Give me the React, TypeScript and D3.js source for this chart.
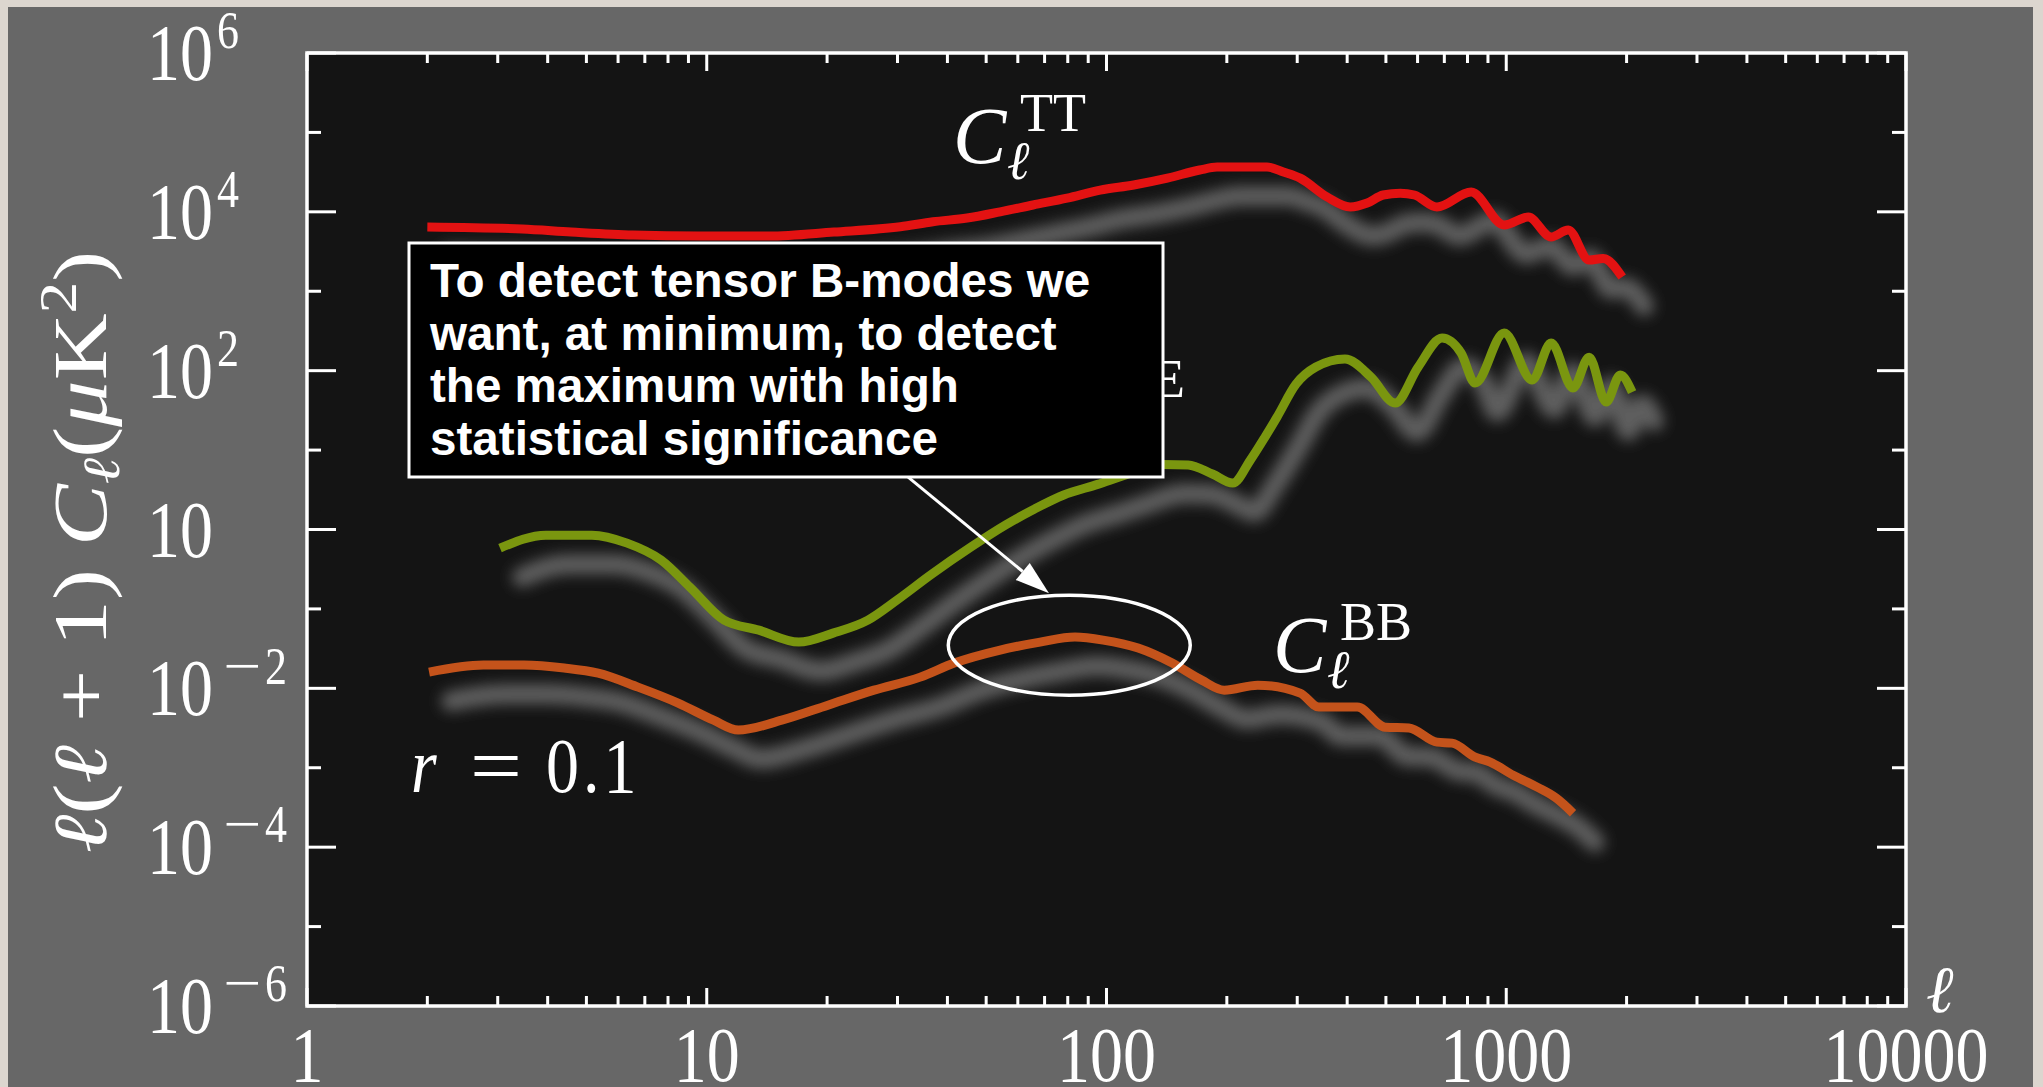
import React, { useEffect } from 'react';
import * as d3 from 'd3';

const W = 2043;
const H = 1087;

// multipole and l(l+1)C_l values
const ttEll = [2, 3.45, 4.58, 6.54, 9.62, 14.3, 20.8, 30.5, 36.8, 44.8, 54.2, 65.5, 79.7, 96.4, 117, 142, 171, 189, 252, 277, 305, 356, 407, 449, 492, 543, 589, 671, 817, 988, 1135, 1295, 1429, 1612, 1747, 1950];
const ttVal = [6440, 6070, 5570, 5100, 4960, 4960, 5570, 6490, 7500, 8350, 10000, 12200, 14900, 18800, 21800, 26600, 33600, 36600, 36600, 31700, 26600, 15400, 11500, 12900, 16300, 17200, 16300, 11500, 17750, 6820, 8600, 4820, 5900, 2470, 2590, 1510];

const eeEll = [3.04, 3.96, 5.16, 6.32, 7.69, 9.08, 11.05, 13.5, 17.0, 20.7, 25.3, 29.9, 36.4, 45.8, 56.1, 65.9, 77.9, 95, 112, 138, 160, 184, 207, 229, 250, 267, 298, 334, 395, 459, 527, 602, 691, 771, 836, 988, 1161, 1295, 1469, 1612, 1778, 1928, 2065];
const eeVal = [0.583, 0.849, 0.849, 0.674, 0.412, 0.188, 0.0723, 0.054, 0.0382, 0.0496, 0.0723, 0.129, 0.27, 0.6, 1.15, 1.8, 2.7, 3.7, 4.9, 6.6, 6.5, 5.0, 3.84, 7.48, 15, 26, 67.8, 111, 140, 83, 39.1, 111, 258, 167, 69.8, 298, 76.2, 223, 60.4, 148, 40.3, 88.1, 53.7];

const bbEll = [2.02, 2.76, 3.49, 4.4, 5.35, 6.73, 8.48, 10.4, 12.0, 15.4, 20.1, 26.2, 34.2, 41.6, 54.2, 68.2, 83.4, 98.1, 120, 146, 173, 197, 239, 305, 340, 424, 498, 571, 671, 732, 836, 912, 1040, 1195, 1334, 1469];
const bbVal = [0.016, 0.0196, 0.0196, 0.018, 0.0155, 0.01035, 0.00652, 0.00397, 0.00298, 0.00397, 0.00614, 0.00948, 0.01384, 0.0208, 0.0303, 0.0382, 0.0442, 0.0405, 0.0321, 0.0208, 0.01268, 0.00948, 0.01096, 0.00871, 0.0058, 0.0058, 0.00324, 0.00317, 0.0021, 0.00204, 0.00136, 0.00118, 0.000807, 0.00057, 0.000414, 0.000268];

const xTickValues = [1, 10, 100, 1000, 10000];
const xTickLabels = ['1', '10', '100', '1000', '10000'];
const yTickExps = [6, 4, 2, 0, -2, -4, -6];
const yTickSups = ['6', '4', '2', '', '2', '4', '6'];

const boxLines = [
  'To detect tensor B-modes we',
  'want, at minimum, to detect',
  'the maximum with high',
  'statistical significance',
];

// annotation in data units: ellipse around the BB recombination bump, arrow from the box
const ellipseEll = [40.2, 162];
const ellipseVal = [0.0082, 0.149];
const arrowFrom = [31.9, 4.57];
const arrowTo = [71.8, 0.158];

const SERIF = "'Liberation Serif', 'DejaVu Serif', serif";
const SANS = "'Liberation Sans', Arial, sans-serif";

const left = 307, right = 1906, top = 53, bottom = 1006;

const SpecLabel = (props: { x: number; y: number; sup: string }) => {
  const { x, y, sup } = props;
  return (
    <g fill="#fff" fontFamily={SERIF}>
      <text x={x} y={y} fontSize={80} fontStyle="italic">C</text>
      <text x={x + 54} y={y + 16} fontSize={54} fontStyle="italic">ℓ</text>
      <text x={x + 67} y={y - 32} fontSize={54}>{sup}</text>
    </g>
  );
};

const App = () => {
  useEffect(() => {
    document.body.style.margin = '0';
    document.body.style.overflow = 'hidden';
  }, []);

  const x = d3.scaleLog().domain([1, 10000]).range([left, right]);
  const y = d3.scaleLog().domain([1e-6, 1e6]).range([bottom, top]);

  const line = d3
    .line<[number, number]>()
    .x((d) => x(d[0]))
    .y((d) => y(d[1]))
    .curve(d3.curveMonotoneX);

  const series = [
    { key: 'tt', color: '#e31212', d: line(ttEll.map((l, i) => [l, ttVal[i]])) },
    { key: 'ee', color: '#7a960f', d: line(eeEll.map((l, i) => [l, eeVal[i]])) },
    { key: 'bb', color: '#c4531b', d: line(bbEll.map((l, i) => [l, bbVal[i]])) },
  ];

  const xMinor: number[] = [];
  for (let p = 0; p < 4; p++) {
    for (let k = 2; k <= 9; k++) xMinor.push(k * Math.pow(10, p));
  }
  const yExpAll = d3.range(-6, 7);

  // arrow geometry
  const sx = x(arrowFrom[0]), sy = y(arrowFrom[1]);
  const tx = x(arrowTo[0]), ty = y(arrowTo[1]);
  const len = Math.hypot(tx - sx, ty - sy);
  const ux = (tx - sx) / len, uy = (ty - sy) / len;
  const hl = 34, hw = 11;
  const bx = tx - ux * hl, by = ty - uy * hl;
  const head = `${tx},${ty} ${bx - uy * hw},${by + ux * hw} ${bx + uy * hw},${by - ux * hw}`;

  const ex0 = x(ellipseEll[0]), ex1 = x(ellipseEll[1]);
  const ey0 = y(ellipseVal[1]), ey1 = y(ellipseVal[0]);

  return (
    <svg width={W} height={H} style={{ position: 'absolute', left: 0, top: 0, display: 'block' }}>
      <defs>
        <filter id="blur" x="-10%" y="-30%" width="120%" height="160%">
          <feGaussianBlur stdDeviation="7" />
        </filter>
      </defs>
      <rect x={0} y={0} width={W} height={H} fill="#dcd6cf" />
      <rect x={8} y={7} width={2025} height={H - 7} fill="#676767" />
      <rect x={left} y={top} width={right - left} height={bottom - top} fill="#141414" />

      {/* soft gray shadows under the spectra */}
      <g transform="translate(22,29)" filter="url(#blur)">
        {series.map((s) => (
          <path key={s.key} d={s.d || ''} fill="none" stroke="#5e5e5e" strokeWidth={20} strokeLinecap="round" />
        ))}
      </g>
      {series.map((s) => (
        <path key={s.key} d={s.d || ''} fill="none" stroke={s.color} strokeWidth={9} strokeLinejoin="round" />
      ))}

      <SpecLabel x={953} y={163} sup="TT" />
      <SpecLabel x={1052} y={429} sup="EE" />
      <SpecLabel x={1273} y={672} sup="BB" />

      {/* r = 0.1 */}
      <g transform="translate(0,792) scale(1,1.18)" fill="#fff" fontFamily={SERIF} fontSize={66}>
        <text x={411} y={0} fontStyle="italic">r</text>
        <text x={470} y={0} textLength={52} lengthAdjust="spacingAndGlyphs">=</text>
        <text x={546} y={0} letterSpacing={4}>0.1</text>
      </g>

      {/* frame and ticks */}
      <g stroke="#fff" strokeWidth={3}>
        {xTickValues.map((v) => (
          <g key={'xm' + v}>
            <line x1={x(v)} x2={x(v)} y1={bottom} y2={bottom - 18} />
            <line x1={x(v)} x2={x(v)} y1={top} y2={top + 18} />
          </g>
        ))}
        {xMinor.map((v) => (
          <g key={'xn' + v}>
            <line x1={x(v)} x2={x(v)} y1={bottom} y2={bottom - 10} />
            <line x1={x(v)} x2={x(v)} y1={top} y2={top + 10} />
          </g>
        ))}
        {yExpAll.map((e) => {
          const yy = y(Math.pow(10, e));
          const l = e % 2 === 0 ? 29 : 14;
          return (
            <g key={'y' + e}>
              <line x1={left} x2={left + l} y1={yy} y2={yy} />
              <line x1={right} x2={right - l} y1={yy} y2={yy} />
            </g>
          );
        })}
        <rect x={left} y={top} width={right - left} height={bottom - top} fill="none" strokeWidth={3.5} />
      </g>

      {/* y tick labels */}
      {yTickExps.map((e, i) => {
        const yb = y(Math.pow(10, e)) + 27;
        const neg = e < 0;
        return (
          <g key={'yl' + e} transform={`translate(147,${yb}) scale(1,1.22)`} fill="#fff" fontFamily={SERIF}>
            <text x={0} y={0} fontSize={66}>10</text>
            {neg && (
              <text x={76} y={-26} fontSize={44} textLength={38} lengthAdjust="spacingAndGlyphs">−</text>
            )}
            {yTickSups[i] && (
              <text x={neg ? 118 : 70} y={-26} fontSize={44}>{yTickSups[i]}</text>
            )}
          </g>
        );
      })}

      {/* x tick labels */}
      {xTickValues.map((v, i) => (
        <g key={'xl' + v} transform={`translate(${x(v)},1081) scale(1,1.2)`} fill="#fff" fontFamily={SERIF}>
          <text x={0} y={0} fontSize={66} textAnchor="middle">{xTickLabels[i]}</text>
        </g>
      ))}

      {/* axis titles */}
      <text x={1926} y={1012} fill="#fff" fontFamily={SERIF} fontSize={66} fontStyle="italic">ℓ</text>
      <g transform="translate(106,552) scale(1,1.22) rotate(-90)" fill="#fff" fontFamily={SERIF} fontSize={76}>
        <text x={0} y={0} textAnchor="middle">
          <tspan fontStyle="italic">ℓ</tspan>
          <tspan>(</tspan>
          <tspan fontStyle="italic">ℓ</tspan>
          <tspan> + 1) </tspan>
          <tspan fontStyle="italic">C</tspan>
          <tspan fontStyle="italic" fontSize={52} dy={13}>ℓ</tspan>
          <tspan dy={-13}>(</tspan>
          <tspan fontStyle="italic">μ</tspan>
          <tspan>K</tspan>
          <tspan fontSize={52} dy={-30}>2</tspan>
          <tspan dy={30}>)</tspan>
        </text>
      </g>

      {/* annotation */}
      <rect x={409} y={243} width={754} height={234} fill="#000" stroke="#fff" strokeWidth={3} />
      {boxLines.map((t, i) => (
        <text key={t} x={430} y={297 + i * 52.7} fill="#fff" fontFamily={SANS} fontWeight="bold" fontSize={47.6}>
          {t}
        </text>
      ))}
      <line x1={sx} y1={sy} x2={bx} y2={by} stroke="#fff" strokeWidth={3} />
      <polygon points={head} fill="#fff" />
      <ellipse
        cx={(ex0 + ex1) / 2}
        cy={(ey0 + ey1) / 2}
        rx={(ex1 - ex0) / 2}
        ry={(ey1 - ey0) / 2}
        fill="none"
        stroke="#fff"
        strokeWidth={3.5}
      />
    </svg>
  );
};

export default App;
